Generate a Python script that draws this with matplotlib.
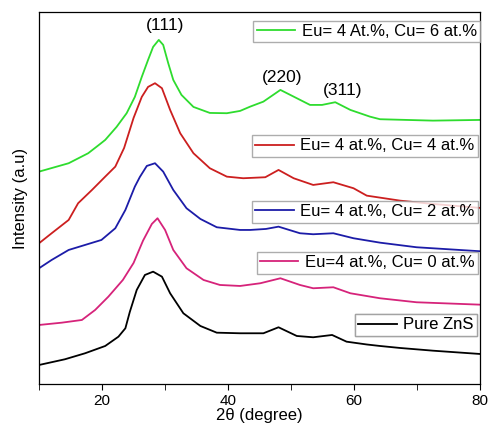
import numpy as np
import matplotlib.pyplot as plt
from matplotlib.ticker import MultipleLocator, NullFormatter

plt.rcParams['font.family'] = ['Liberation Sans', 'DejaVu Sans']

# 2theta (deg) and intensity (a.u., offset stacked)
x_zns = [10.0, 14.1, 17.3, 20.5, 22.6, 23.7, 24.4, 25.5, 26.8, 28.1, 29.5, 30.8, 32.9,
         35.6, 38.2, 41.9, 45.6, 48.0, 50.9, 53.5, 56.5, 58.8, 62.0, 64.1, 67.3,
         72.5, 80.0]
y_zns = [19.0, 24.7, 30.7, 38.0, 47.3, 55.7, 72.0, 94.0, 109.0, 112.3, 107.3, 90.7, 70.7,
         58.0, 51.3, 50.7, 50.7, 56.7, 48.0, 46.7, 49.0, 42.3, 39.5, 38.0, 36.0,
         33.3, 30.0]

x_cu0 = [10.0, 13.6, 16.8, 18.9, 21.0, 23.3, 25.0, 26.5, 27.9, 28.8, 30.0, 31.3, 33.4,
         36.1, 38.7, 41.9, 45.1, 48.3, 51.4, 53.5, 56.7, 59.4, 64.1, 69.9, 80.0]
y_cu0 = [59.0, 61.3, 64.0, 74.0, 87.3, 104.0, 121.0, 143.3, 160.0, 165.7, 154.0, 134.0, 115.7,
         104.0, 99.0, 98.0, 100.7, 105.7, 99.0, 95.7, 96.7, 90.7, 85.7, 81.7, 79.3]

x_cu2 = [10.0, 12.0, 14.7, 17.3, 19.9, 22.1, 23.7, 25.2, 26.0, 27.1, 28.4, 29.7, 31.3,
         33.4, 35.6, 38.2, 41.9, 43.5, 46.0, 48.0, 51.4, 53.5, 56.7, 59.9, 64.1,
         69.9, 80.0]
y_cu2 = [115.7, 124.0, 134.0, 139.0, 144.0, 155.7, 174.0, 197.3, 207.0, 218.0, 220.7, 212.3, 194.0,
         175.7, 165.0, 156.7, 154.0, 154.0, 155.0, 157.3, 150.7, 149.7, 150.7, 145.7, 141.3,
         136.7, 132.7]

x_cu4 = [10.0, 12.0, 14.7, 16.2, 18.4, 20.5, 22.1, 23.5, 25.0, 26.3, 27.3, 28.4, 29.5,
         30.8, 32.4, 34.5, 37.1, 39.8, 42.4, 45.9, 48.0, 50.4, 53.5, 56.7, 59.9,
         62.0, 67.3, 72.5, 80.0]
y_cu4 = [140.7, 150.7, 164.0, 180.7, 194.0, 207.3, 217.3, 236.0, 266.0, 287.0, 297.0, 300.7, 295.7,
         274.0, 250.7, 230.7, 215.7, 207.3, 205.7, 206.7, 214.0, 205.7, 199.0, 201.7, 195.7,
         188.3, 183.3, 180.0, 176.0]

x_cu6 = [10.0, 14.7, 17.8, 19.7, 20.5, 22.3, 23.9, 25.2, 26.3, 27.3, 28.1, 29.0, 29.7,
         30.5, 31.3, 32.6, 34.5, 37.1, 39.8, 41.9, 43.5, 45.6, 48.3, 50.4, 53.0,
         54.9, 57.0, 59.4, 62.5, 64.1, 72.5, 80.0]
y_cu6 = [212.3, 220.7, 230.7, 240.0, 244.0, 257.0, 270.7, 287.0, 307.0, 324.0, 337.0, 344.0, 339.0,
         320.7, 304.0, 289.0, 277.0, 271.0, 270.7, 273.0, 277.3, 282.3, 294.0, 287.3, 279.0,
         279.0, 281.7, 274.0, 267.3, 264.7, 263.3, 264.0]

series = [
    (x_cu6, y_cu6, '#2edc2e', 'Eu= 4 At.%, Cu= 6 at.%'),
    (x_cu4, y_cu4, '#cc1f1f', 'Eu= 4 at.%, Cu= 4 at.%'),
    (x_cu2, y_cu2, '#1c1ca8', 'Eu= 4 at.%, Cu= 2 at.%'),
    (x_cu0, y_cu0, '#d6237a', 'Eu=4 at.%, Cu= 0 at.%'),
    (x_zns, y_zns, '#000000', 'Pure ZnS'),
]
legend_x = [1.0, 0.995, 0.995, 0.995, 0.993]
legend_y = [0.976, 0.669, 0.492, 0.355, 0.188]

peaks = ['(111)', '(220)', '(311)']
peak_x = [30.0, 48.6, 58.1]
peak_y = [358, 306, 293]

fig = plt.figure(figsize=(4.88, 4.25), dpi=100)
ax = fig.add_axes([0.080, 0.0965, 0.904, 0.8755])

for (x, y, c, lab), lx, ly in zip(series, legend_x, legend_y):
    ln, = ax.plot(x, y, color=c, lw=1.3)
    leg = ax.legend([ln], [lab], loc='upper right', bbox_to_anchor=(lx, ly),
                    fontsize=12, frameon=True, fancybox=False, handlelength=2.3,
                    handletextpad=0.4, borderpad=0.2, borderaxespad=0)
    leg.get_frame().set_edgecolor('#999999')
    leg.get_frame().set_linewidth(1.0)
    ax.add_artist(leg)

for t, px, py in zip(peaks, peak_x, peak_y):
    ax.text(px, py, t, ha='center', va='center', fontsize=12.5)

ax.set_xlim(10, 80)
ax.set_ylim(0, 372)
ax.set_yticks([])
ax.xaxis.set_major_locator(MultipleLocator(20))
ax.xaxis.set_minor_locator(MultipleLocator(10))
ax.xaxis.set_minor_formatter(NullFormatter())
ax.tick_params(axis='x', which='both', direction='out', length=4, labelsize=11, pad=3)
ax.set_xlabel('2θ (degree)', fontsize=12, labelpad=0)
ax.set_ylabel('Intensity (a.u)', fontsize=12, labelpad=8)
for s in ax.spines.values():
    s.set_linewidth(0.9)

fig.savefig('out.png', dpi=100)
